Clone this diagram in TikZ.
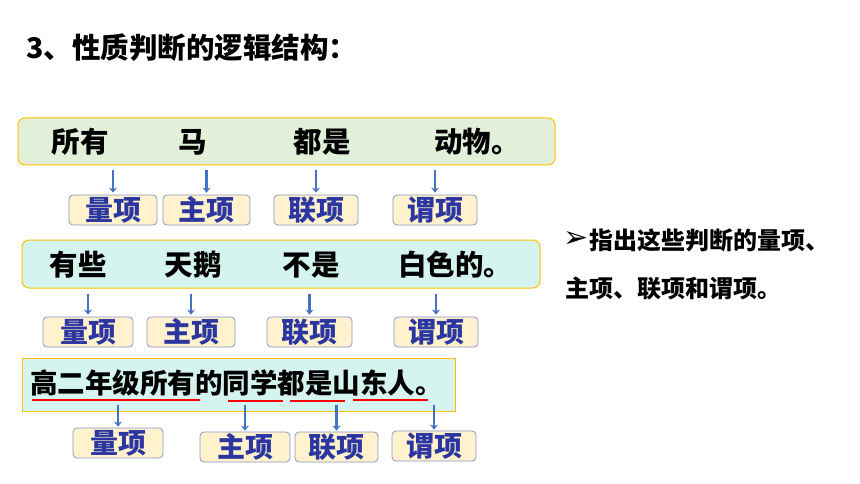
\documentclass[tikz,border=0pt]{standalone}
\usepackage{fontspec}
\usetikzlibrary{arrows.meta,positioning}
\newfontfamily\cjk{Noto Sans CJK SC}
\newfontfamily\symfont{DejaVu Sans}
\definecolor{boxgreen}{HTML}{E2F0D9}
\definecolor{boxcyan}{HTML}{D5F3EF}
\definecolor{gold}{HTML}{FFC000}
\definecolor{termfill}{HTML}{FFF2CC}
\definecolor{termline}{HTML}{8497C8}
\definecolor{termtext}{HTML}{2B36A0}
\definecolor{arrblue}{HTML}{4472C4}

\begin{document}
\begin{tikzpicture}[x=1pt,y=-1pt,
    sentbox/.style={draw=gold,line width=1pt,rounded corners=7pt,inner sep=0pt},
    termbox/.style={draw=termline,fill=termfill,rounded corners=4pt,line width=0.8pt,
                    minimum height=30pt,inner sep=0pt,text=termtext,
                    font=\cjk\bfseries\fontsize{28}{28}\selectfont},
    word/.style={inner sep=0pt,font=\cjk\bfseries\fontsize{28.5}{28.5}\selectfont},
    arr/.style={-{Stealth[length=5pt,width=8pt]},arrblue,line width=2.4pt},
    uline/.style={red,line width=1.4pt}]
  \useasboundingbox (0,0) rectangle (860,484);

  % title and hint
  \node[word,anchor=west] (title) at (26,48) {3、性质判断的逻辑结构：};
  \node[inner sep=0pt,anchor=west,font=\symfont\fontsize{30}{30}\selectfont] (mark) at (563,240) {➢};
  \node[inner sep=0pt,anchor=west,font=\cjk\bfseries\fontsize{24}{24}\selectfont,right=1pt of mark] (hint1)
    {指出这些判断的量项、};
  \node[inner sep=0pt,anchor=west,font=\cjk\bfseries\fontsize{24}{24}\selectfont] (hint2) at (565,288)
    {主项、联项和谓项。};

  % first judgement
  \node[sentbox,fill=boxgreen,minimum width=537pt,minimum height=47pt] (s1) at (286.5,141.5) {};
  \node[word] (all)   at (80,142)  {所有};
  \node[word] (horse) at (193,142) {马};
  \node[word] (are)   at (322,142) {都是};
  \node[word] (anim)  at (477,142) {动物。};
  \node[termbox,minimum width=88pt] (lq1) at (113,210) {量项};
  \node[termbox,minimum width=87pt] (lz1) at (206.5,210) {主项};
  \node[termbox,minimum width=84pt] (ll1) at (316,210) {联项};
  \node[termbox,minimum width=84pt] (lw1) at (435,210) {谓项};
  \foreach \t in {lq1,lz1,ll1,lw1}
    \draw[arr,shorten <=5pt,shorten >=2pt] (s1.south -| \t) -- (\t.north);

  % second judgement
  \node[sentbox,fill=boxcyan,minimum width=518pt,minimum height=48pt] (s2) at (281,264) {};
  \node[word] (some)  at (78,265)  {有些};
  \node[word] (swan)  at (193,265) {天鹅};
  \node[word] (isnot) at (311,265) {不是};
  \node[word] (white) at (455,265) {白色的。};
  \node[termbox,minimum width=90pt] (lq2) at (88,332)  {量项};
  \node[termbox,minimum width=88pt] (lz2) at (191,332) {主项};
  \node[termbox,minimum width=85pt] (ll2) at (309.5,332) {联项};
  \node[termbox,minimum width=84pt] (lw2) at (436,332) {谓项};
  \foreach \t in {lq2,lz2,ll2,lw2}
    \draw[arr,shorten <=5pt,shorten >=2pt] (s2.south -| \t) -- (\t.north);

  % third judgement
  \node[draw=gold,line width=1pt,fill=boxcyan,inner sep=0pt,minimum width=433pt,minimum height=53pt] (s3) at (238.5,384.5) {};
  \node[word,font=\cjk\bfseries\fontsize{27.5}{27.5}\selectfont,anchor=west] (sent) at (30,383)
    {高二年级所有的同学都是山东人。};
  \coordinate (r3) at (0,405);
  \draw[uline] (32,400) -- (200,400);
  \draw[uline] (228,401) -- (283,401);
  \draw[uline] (290,401) -- (345,401);
  \draw[uline] (353,400) -- (428,400);
  \node[termbox,minimum width=90pt] (lq3) at (118,443) {量项};
  \node[termbox,minimum width=90pt] (lz3) at (245,447) {主项};
  \node[termbox,minimum width=83pt] (ll3) at (336.5,447) {联项};
  \node[termbox,minimum width=84pt] (lw3) at (434,446) {谓项};
  \foreach \t in {lq3,lz3,ll3,lw3}
    \draw[arr,shorten >=1pt] (r3 -| \t) -- (\t.north);
\end{tikzpicture}
\end{document}
